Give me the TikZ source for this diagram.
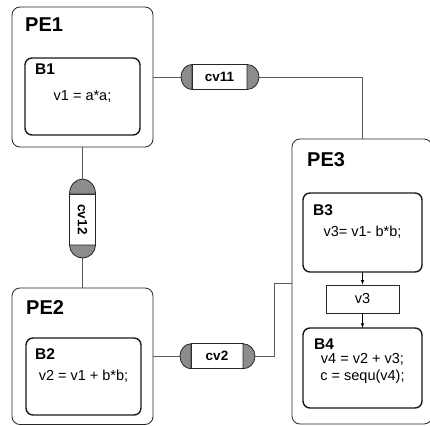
\documentclass[tikz,border=0pt]{standalone}
\usepackage{fontspec}
\setmainfont{Liberation Sans}
\usetikzlibrary{calc, arrows.meta, positioning}

\begin{document}
\begin{tikzpicture}[x=1pt, y=-1pt, >=latex, node distance=1cm]
	\tikzstyle{pe} = [draw=black!85, line width=0.8pt, rounded corners=8pt, inner sep=0pt, outer sep=0pt]
	\tikzstyle{blk} = [draw=black!90, line width=1.4pt, rounded corners=7pt, inner sep=0pt, outer sep=0pt, align=center, font=\fontsize{14.5}{19}\selectfont]
	\tikzstyle{petitle} = [inner sep=0pt, font=\fontsize{20}{20}\selectfont\bfseries]
	\tikzstyle{btitle} = [inner sep=0pt, font=\fontsize{15.5}{15.5}\selectfont\bfseries]
	\tikzstyle{chan} = [draw=black!85, line width=0.8pt, fill=white, inner sep=0pt, outer sep=0pt, font=\fontsize{13.5}{13.5}\selectfont\bfseries]
	\tikzstyle{chancap} = [draw=black!85, line width=0.8pt, fill=black!45]
	\tikzstyle{wire} = [draw=black!65, line width=0.9pt]
	\tikzstyle{varbox} = [draw=black!85, line width=0.8pt, minimum width=73pt, minimum height=28pt, inner sep=0pt, font=\fontsize{14.5}{14.5}\selectfont]

	\useasboundingbox (0,0) rectangle (430,425);

	% processing elements
	\node[pe, minimum width=141pt, minimum height=140pt] at (82.5,77) (pe1) {};
	\node[pe, minimum width=141pt, minimum height=136.5pt] at (82.5,356.25) (pe2) {};
	\node[pe, minimum width=140pt, minimum height=285pt] at (362,281.5) (pe3) {};
	\node[petitle, below right=11pt and 13pt of pe1.north west] (pe1t) {PE1};
	\node[petitle, below right=12pt and 14pt of pe2.north west] (pe2t) {PE2};
	\node[petitle, below right=13pt and 15pt of pe3.north west] (pe3t) {PE3};

	% blocks
	\node[blk, minimum width=115pt, minimum height=77pt] at (82.5,96.5) (b1) {v1 = a*a;};
	\node[blk, minimum width=115pt, minimum height=77pt] at (83.5,376.5) (b2) {v2 = v1 + b*b;};
	\node[blk, minimum width=119pt, minimum height=79pt] at (362.5,232.5) (b3) {\raisebox{-4pt}{v3= v1- b*b;}};
	\node[blk, minimum width=119pt, minimum height=80pt] at (362.5,368) (b4) {\raisebox{-2pt}{v4 = v2 + v3;}\\c = sequ(v4);};
	\node[btitle, below right=6pt and 10pt of b1.north west] (b1t) {B1};
	\node[btitle, below right=10pt and 9pt of b2.north west] (b2t) {B2};
	\node[btitle, below right=11pt and 10pt of b3.north west] (b3t) {B3};
	\node[btitle, below right=11pt and 11pt of b4.north west] (b4t) {B4};

	\node[varbox] at (362.5,299) (v3) {v3};
	\draw[->, line width=0.6pt] (b3) -- (v3);
	\draw[->, line width=0.6pt] (v3) -- (b4);

	% channels
	\node[chan, minimum width=55pt, minimum height=25pt] at (219.5,77) (cv11) {cv11};
	\node[chan, minimum width=52pt, minimum height=25pt] at (217,356.25) (cv2) {cv2};
	\node[chan, rotate=-90, minimum width=51pt, minimum height=26pt] at (82.5,219.5) (cv12) {cv12};
	\coordinate (cv2bend) at (274,283);

	\draw[wire] (pe1) -- (cv11);
	\draw[wire] (cv11) -| (pe3.north);
	\draw[wire] (pe1) -- (cv12);
	\draw[wire] (cv12) -- (pe2);
	\draw[wire] (pe2) -- (cv2);
	\draw[wire] (cv2) -| (cv2bend) -- (cv2bend -| pe3.west);

	\foreach \ch in {cv11, cv2} {
		\path[chancap] (\ch.north west) arc[start angle=90, end angle=270, x radius=11pt, y radius=12.5pt] -- cycle;
		\path[chancap] (\ch.north east) arc[start angle=90, end angle=-90, x radius=12pt, y radius=12.5pt] -- cycle;
	}
	\path[chancap] (cv12.south west) arc[start angle=180, end angle=0, x radius=13pt, y radius=15pt] -- cycle;
	\path[chancap] (cv12.south east) arc[start angle=180, end angle=360, x radius=13pt, y radius=13pt] -- cycle;
\end{tikzpicture}
\end{document}
